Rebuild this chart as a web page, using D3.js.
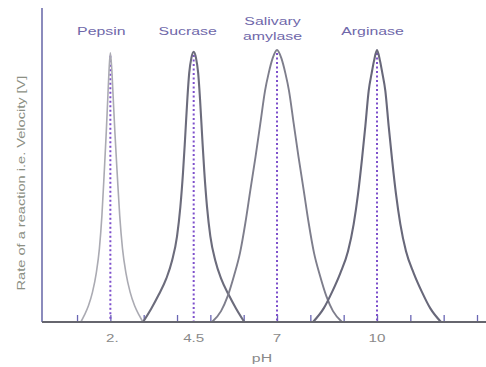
<!DOCTYPE html>
<html>
<head>
<meta charset="utf-8">
<script src="https://cdn.jsdelivr.net/npm/d3@7"></script>
<style>
  html, body { margin: 0; padding: 0; background: #ffffff; }
  svg { display: block; font-family: "Liberation Sans", Arial, sans-serif; }
</style>
</head>
<body>
<svg id="chart" width="486" height="367"></svg>
<script>
// ---- data ----
const enzymes = ["Pepsin", "Sucrase", "Salivary amylase", "Arginase"];
const optimumPH = [2, 4.5, 7, 10];
const peakRate = [99, 99.3, 100, 100];

// [pH, relative rate] points along each curve
const pepsinCurve = [[1.116,0],[1.22,2.5],[1.342,6],[1.464,11],[1.577,18],[1.671,27],[1.746,39],[1.812,54],[1.878,70],[1.925,83],[1.962,93],[2,99],[2.042,93],[2.083,83],[2.135,70],[2.208,54],[2.281,39],[2.364,27],[2.468,18],[2.593,11],[2.728,6],[2.863,2.5],[2.978,0]];
const sucraseCurve = [[2.98,0],[3.23,5],[3.45,10],[3.68,16],[3.85,22.5],[4.0,31.5],[4.1,42.3],[4.18,55],[4.24,67],[4.31,82],[4.365,91.5],[4.43,97],[4.5,99.3],[4.57,97],[4.635,91.5],[4.69,82],[4.76,67],[4.82,55],[4.9,42.3],[5.0,31.5],[5.15,22.5],[5.32,16],[5.55,10],[5.77,5],[6.02,0]];
const amylaseCurve = [[5.05,0],[5.32,4],[5.52,9.5],[5.71,17],[5.89,25.4],[6.05,36.4],[6.2,48.5],[6.355,60.7],[6.5,73],[6.64,85],[6.75,91.5],[6.87,97],[7,100],[7.13,97],[7.25,91.5],[7.36,85],[7.5,73],[7.645,60.7],[7.8,48.5],[7.95,36.4],[8.11,25.4],[8.29,17],[8.48,9.5],[8.68,4],[8.95,0]];
const arginaseCurve = [[8.08,0],[8.4,5],[8.65,11],[8.9,18],[9.13,26],[9.3,36],[9.43,47],[9.55,60],[9.65,72],[9.75,85],[9.84,91.5],[9.91,96],[10,100],[10.09,96],[10.16,91.5],[10.25,85],[10.35,72],[10.45,60],[10.57,47],[10.7,36],[10.87,26],[11.1,18],[11.35,11],[11.6,5],[11.92,0]];

const minorTicks = [1,2,3,4,5,6,7,8,9,10,11,12,13];
const tickValues = [2, 4.5, 7, 10];
const tickLabels = ["2.", "4.5", "7", "10"];
const xTitle = "pH";
const yTitle = "Rate of a reaction i.e. Velocity [V]";

// ---- layout ----
const svg = d3.select("#chart");
const x = d3.scaleLinear().domain([0, 13]).range([43.7, 477]);
const y = d3.scaleLinear().domain([0, 100]).range([322, 50]);
const axisLeftX = 42, axisTopY = 8, axisRightX = 486;
const stretch = 1.38; // the picture's text is horizontally widened

const curves = [pepsinCurve, sucraseCurve, amylaseCurve, arginaseCurve];
const curveColors = ["#ababb3", "#6c6c7c", "#7e7e8c", "#68687a"];
const curveWidths = [1.6, 2.1, 1.9, 2.1];

function wideText(g, cx, by, str, size, fill) {
  return g.append("text")
    .attr("transform", `translate(${cx},${by}) scale(${stretch},1)`)
    .attr("text-anchor", "middle").attr("font-size", size).attr("fill", fill)
    .text(str);
}

// ---- axes ----
svg.append("line")
  .attr("x1", axisLeftX).attr("x2", axisLeftX)
  .attr("y1", axisTopY).attr("y2", y(0))
  .attr("stroke", "#6e6eac").attr("stroke-width", 1.6);

// integer ticks (pointing up into the plot)
const tickAxis = d3.axisBottom(x).tickValues(minorTicks).tickSize(-7).tickFormat("");
const tg = svg.append("g").attr("transform", `translate(0,${y(0)})`).call(tickAxis);
tg.select(".domain").remove();
tg.selectAll(".tick line").attr("stroke", "#6a66b4").attr("stroke-width", 1.3);

// labelled ticks
const lg = svg.append("g");
tickValues.forEach((v, i) => wideText(lg, x(v) + (i === 0 ? 2 : 0), 342, tickLabels[i], 11, "#8a8a8a"));

// dotted optimum lines
svg.append("g").selectAll("line").data(optimumPH).join("line")
  .attr("x1", d => x(d)).attr("x2", d => x(d))
  .attr("y1", (d, i) => y(peakRate[i]) + 3).attr("y2", y(0))
  .attr("stroke", "#7e50cc").attr("stroke-width", 2)
  .attr("stroke-dasharray", "2,2.5");

// curves
const line = d3.line().x(d => x(d[0])).y(d => y(d[1])).curve(d3.curveMonotoneX);
svg.append("g").selectAll("path").data(curves).join("path")
  .attr("d", line)
  .attr("fill", "none")
  .attr("stroke", (d, i) => curveColors[i])
  .attr("stroke-width", (d, i) => curveWidths[i]);

// x axis baseline
svg.append("line")
  .attr("x1", axisLeftX).attr("x2", axisRightX)
  .attr("y1", y(0)).attr("y2", y(0))
  .attr("stroke", "#66666e").attr("stroke-width", 1.8);

// enzyme labels
const labelDx = [-9, -6, -4.5, -4.5];
const labelG = svg.append("g");
const labelColor = "#7068aa";
enzymes.forEach((name, i) => {
  const cx = x(optimumPH[i]) + labelDx[i];
  if (name === "Salivary amylase") {
    wideText(labelG, cx, 25, "Salivary", 11.5, labelColor);
    wideText(labelG, cx, 40, "amylase", 11.5, labelColor);
  } else {
    wideText(labelG, cx, 35, name, 11.5, labelColor);
  }
});

// axis titles
wideText(svg, 262, 362, xTitle, 11.5, "#8a8a8a");
svg.append("text")
  .attr("transform", "translate(25,183) rotate(-90) scale(1.27,1)")
  .attr("text-anchor", "middle").attr("font-size", 11.5).attr("fill", "#8c9084")
  .text(yTitle);
</script>
</body>
</html>
